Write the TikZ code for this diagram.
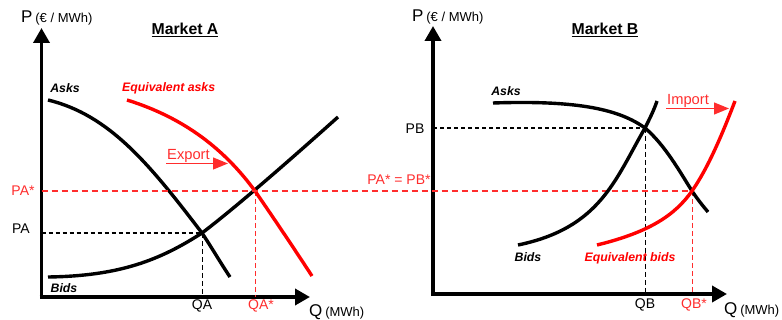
\documentclass[tikz,border=0pt]{standalone}
\usepackage{fontspec}
\setmainfont{Liberation Sans}
\usetikzlibrary{arrows.meta}
\definecolor{lred}{RGB}{255,45,45}
\begin{document}
\begin{tikzpicture}[x=1pt,y=-1pt,
  axisline/.style={line width=3.6pt,-{Triangle[length=15pt,width=16pt]}},
  curveline/.style={line width=3.4pt},
  guide/.style={line width=1.1pt,dash pattern=on 4pt off 3pt},
  rguide/.style={lred,line width=1.3pt,dash pattern=on 6pt off 4pt},
  vguide/.style={line width=0.8pt,dash pattern=on 5pt off 3pt},
  lab/.style={font=\fontsize{14}{16}\selectfont,inner sep=0pt},
  rlab/.style={lab,text=lred},
  curvelab/.style={font=\fontsize{12.3}{14}\selectfont\bfseries\itshape,inner sep=0pt},
  titlelab/.style={font=\fontsize{15.8}{18}\selectfont\bfseries,inner sep=0pt},
  flowarrow/.style={lred,line width=1.2pt,-{Triangle[length=15pt,width=12pt]}},
  flowlab/.style={font=\fontsize{14.7}{16}\selectfont,text=lred,inner sep=0pt,anchor=base west},
  axlab/.style={inner sep=0pt,anchor=west},
]
\useasboundingbox (0,0) rectangle (782,320);

% ---------------- Market A ----------------
\coordinate (oA) at (41.5,299);
\coordinate (yA) at (41.5,28);
\coordinate (oAx) at (39.5,297);
\coordinate (xA) at (310,297);
\draw[axisline] (oA) -- (yA);
\draw[axisline] (oAx) -- (xA);

\node[axlab] (pA) at (21,18) {\fontsize{17}{19}\selectfont P\,\fontsize{13}{15}\selectfont(€ / MWh)};
\node[titlelab] (mA) at (185,30) {\underline{Market A}};
\node[axlab] (qAx) at (309,312) {\fontsize{17}{19}\selectfont Q\,\fontsize{13}{15}\selectfont(MWh)};

\coordinate (eA) at (202,233);
\coordinate (eAs) at (255,191);
\coordinate (pAl) at (41.5,233);
\coordinate (qAb) at (202,297);
\coordinate (qAsb) at (255,297);

% guides
\draw[guide] (pAl) -- (eA);
\draw[vguide] (eA) -- (qAb);
\draw[vguide,lred] (eAs) -- (qAsb);

% curves
\draw[curveline] (48,100) .. controls (110,115) and (150,165) .. (eA)
   .. controls (212,248) and (220,262) .. (230,277);
\draw[curveline] (48,277) .. controls (120,276) and (160,260) .. (eA)
   .. controls (235,208) and (290,160) .. (338,117);
\draw[curveline,red] (127,100) .. controls (185,118) and (225,150) .. (eAs)
   .. controls (275,220) and (295,250) .. (312,276);

\node[curvelab] (asksA) at (65,88) {Asks};
\node[curvelab] (bidsA) at (64,288) {Bids};
\node[curvelab,text=red,anchor=west] (eqA) at (122,88) {Equivalent asks};

\node[lab] (PAl) at (21,229) {PA};
\node[rlab] (PAsl) at (23,191) {PA*};
\node[lab] (QAl) at (202,306) {QA};
\node[rlab] (QAsl) at (261,306) {QA*};

\coordinate (exS) at (166,163.5);
\coordinate (exE) at (228,163.5);
\draw[flowarrow] (exS) -- (exE);
\node[flowlab] (expo) at (167,160) {Export};

% ---------------- Market B ----------------
\coordinate (oB) at (433,296);
\coordinate (yB) at (433,26);
\coordinate (oBx) at (431,294);
\coordinate (xB) at (727,294);
\draw[axisline] (oB) -- (yB);
\draw[axisline] (oBx) -- (xB);

\node[axlab] (pB) at (412,17) {\fontsize{17}{19}\selectfont P\,\fontsize{13}{15}\selectfont(€ / MWh)};
\node[titlelab] (mB) at (605,30) {\underline{Market B}};
\node[axlab] (qBx) at (724,310) {\fontsize{17}{19}\selectfont Q\,\fontsize{13}{15}\selectfont(MWh)};

\coordinate (eB) at (645,128);
\coordinate (eBs) at (692,191);
\coordinate (pBl) at (433,128);
\coordinate (qBb) at (645,294);
\coordinate (qBsb) at (692,294);
\coordinate (pAsL) at (41.5,191);

\draw[guide] (pBl) -- (eB);
\draw[vguide] (eB) -- (qBb);
\draw[vguide,lred] (eBs) -- (qBsb);

% common price line
\draw[rguide] (pAsL) -- (eBs);

\draw[curveline] (493,103) .. controls (580,100) and (620,110) .. (eB)
   .. controls (665,145) and (680,172) .. (eBs)
   .. controls (698,200) and (703,206) .. (708,212);
\draw[curveline] (518,245) .. controls (600,228) and (615,180) .. (eB)
   .. controls (650,118) and (654,110) .. (657,101);
\draw[curveline,red] (597,245) .. controls (650,232) and (675,215) .. (eBs)
   .. controls (708,168) and (722,135) .. (735,101);

\node[curvelab] (asksB) at (506,91) {Asks};
\node[curvelab] (bidsB) at (528,257) {Bids};
\node[curvelab,text=red] (eqB) at (630,258) {Equivalent bids};

\node[lab] (PBl) at (415,129) {PB};
\node[rlab] (PABl) at (399,180) {PA* = PB*};
\node[lab] (QBl) at (645,305) {QB};
\node[rlab] (QBsl) at (694,305) {QB*};

\coordinate (imS) at (666,108.5);
\coordinate (imE) at (729,108.5);
\draw[flowarrow] (imS) -- (imE);
\node[flowlab] (impo) at (667,105) {Import};
\end{tikzpicture}
\end{document}
